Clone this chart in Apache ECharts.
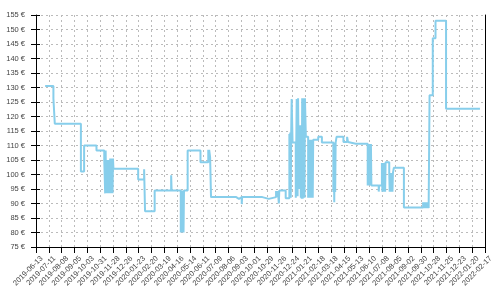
<!DOCTYPE html>
<html>
<head>
<meta charset="utf-8">
<script src="https://cdn.jsdelivr.net/npm/echarts@6/dist/echarts.min.js"></script>
<style>html,body{margin:0;padding:0;background:#fff}#c{width:500px;height:300px}</style>
</head>
<body>
<div id="c"></div>
<script>
const startDate = '2019-06-13';
const endDate = '2022-02-17';
const tickDays = 28;
const yMin = 75, yMax = 155, yStep = 5;

const dates = [
'2019-07-03','2019-07-21','2019-07-24','2019-09-19','2019-09-26','2019-10-23',
'2019-11-09','2019-11-11','2019-11-12','2019-11-13','2019-11-14','2019-11-15','2019-11-16','2019-11-17','2019-11-18','2019-11-19','2019-11-20','2019-11-21','2019-11-22','2019-11-23','2019-11-24','2019-11-25','2019-11-26','2019-11-27','2019-11-28','2019-11-29',
'2020-01-22','2020-02-04','2020-02-06','2020-02-27','2020-04-03','2020-04-04',
'2020-04-24','2020-04-25','2020-04-26','2020-04-27','2020-04-28','2020-04-29','2020-04-30','2020-05-01',
'2020-05-09','2020-06-06','2020-06-23','2020-06-24','2020-06-25','2020-06-27','2020-06-29',
'2020-08-23','2020-08-29','2020-09-04','2020-09-05','2020-10-19','2020-11-02',
'2020-11-18','2020-11-19','2020-11-20','2020-11-21','2020-11-22','2020-11-23','2020-11-24','2020-11-25',
'2020-12-09','2020-12-17','2020-12-18','2020-12-19','2020-12-20','2020-12-21','2020-12-22','2020-12-24','2020-12-31',
'2021-01-02','2021-01-04','2021-01-05','2021-01-07','2021-01-08','2021-01-09','2021-01-10','2021-01-11','2021-01-12','2021-01-13',
'2021-01-14','2021-01-15','2021-01-16','2021-01-17','2021-01-18','2021-01-19','2021-01-20','2021-01-22',
'2021-01-27','2021-01-28','2021-01-29','2021-01-30','2021-01-31','2021-02-01','2021-02-02','2021-02-03','2021-02-04','2021-02-05','2021-02-06','2021-02-07',
'2021-02-18','2021-02-26',
'2021-03-23','2021-03-24','2021-03-25','2021-03-26','2021-03-27','2021-03-28','2021-03-30',
'2021-04-14','2021-04-22','2021-04-24','2021-04-26','2021-05-11','2021-05-13',
'2021-06-06','2021-06-07','2021-06-08','2021-06-09','2021-06-10','2021-06-11','2021-06-12','2021-06-13','2021-06-14',
'2021-06-30','2021-07-01',
'2021-07-07','2021-07-08','2021-07-09','2021-07-10','2021-07-11','2021-07-12','2021-07-13','2021-07-14','2021-07-15',
'2021-07-23','2021-07-24','2021-07-25','2021-07-26','2021-07-27','2021-07-28','2021-07-29','2021-07-30','2021-07-31',
'2021-08-02','2021-08-24',
'2021-10-05','2021-10-07','2021-10-08','2021-10-09','2021-10-10','2021-10-11','2021-10-12','2021-10-13','2021-10-14','2021-10-15','2021-10-16','2021-10-17',
'2021-10-19','2021-10-26','2021-11-01','2021-11-24','2022-02-06'
];
const prices = [
130.5,126.2,117.5,101,110,108.3,
105,93.5,108.3,93.5,105,93.5,104.5,93.5,105,93.5,104.5,93.5,105.5,93.5,105.5,93.5,105.5,93.5,105.5,102,
98.3,101.8,87.3,94.5,99.7,94.5,
80,94.5,80,94.5,80,94.5,80,94.5,
108.3,104.2,108.5,104.2,108.5,106,92.2,
91.6,92.2,89.8,92.2,91.6,92.2,
94.3,92.2,94.3,92.2,94.3,92.2,90,94.5,
91.8,114,92,114.5,92,114.5,126,111,92,
126,92.5,126.3,95,116.5,95,117,92,112,91.6,
126.3,91.6,126.3,92,126.3,92,126.3,113,
92,112,92,112,92,112,92,112,92,112,92,112,
113,111,
94,111,90.4,111,94,111,113,
111.2,113,111.2,110.6,111,110.6,
96.2,110.5,96.2,110.5,96.2,110.5,96.2,110.5,96.2,
94.1,96.2,
104,94.1,104,94.1,104,94.1,104,94.1,104.2,
100.5,94.1,100.5,94.1,100.5,94.1,100.5,94.1,100.5,
102.3,88.6,
90.4,88.4,90.4,88.4,90.4,88.4,90.4,88.4,90.4,88.4,90.4,88.4,
127.3,147,153,122.7,122.7
];

const DAY = 86400000;
const t0 = Date.parse(startDate);
const dayOf = s => Math.round((Date.parse(s) - t0) / DAY);
const fmtDay = v => new Date(t0 + v * DAY).toISOString().slice(0, 10);
const data = dates.map((d, i) => [dayOf(d), prices[i]]);

const chart = echarts.init(document.getElementById('c'), null, {renderer: 'canvas'});
const gridLine = {show: true, lineStyle: {color: '#bbb', type: [2, 3], width: 1}};
chart.setOption({
  animation: false,
  grid: {left: 36, right: 15, top: 15, bottom: 53, containLabel: false},
  xAxis: {
    type: 'value', min: 0, max: dayOf(endDate), interval: tickDays,
    axisLine: {show: true, onZero: false, lineStyle: {color: '#000', width: 1}},
    axisTick: {show: true, length: 6, lineStyle: {color: '#000'}},
    axisLabel: {rotate: 45, interval: 0, fontSize: 7.5, color: '#444', margin: 16, padding: [0, -8, 0, 0],
      formatter: v => fmtDay(v), fontFamily: 'Liberation Sans', hideOverlap: false},
    splitLine: gridLine
  },
  yAxis: [{
    type: 'value', min: yMin, max: yMax, interval: yStep, position: 'left',
    axisLine: {show: true, onZero: false, lineStyle: {color: '#000', width: 1}},
    axisTick: {show: true, length: 5, lineStyle: {color: '#000'}},
    axisLabel: {fontSize: 7.5, color: '#444', margin: 11, formatter: '{value} €', fontFamily: 'Liberation Sans'},
    splitLine: gridLine
  }, {
    type: 'value', min: yMin, max: yMax, interval: yStep, position: 'right',
    axisLine: {show: true, onZero: false, lineStyle: {color: '#000', width: 1}},
    axisTick: {show: false}, axisLabel: {show: false}, splitLine: {show: false}
  }, {
    type: 'value', min: yMin, max: yMax, interval: yStep, position: 'left', offset: 0,
    axisLine: {show: false},
    axisTick: {show: true, inside: true, length: 4, lineStyle: {color: '#000'}},
    axisLabel: {show: false}, splitLine: {show: false}
  }],
  series: [{
    type: 'line', step: 'end', data: data, showSymbol: false,
    lineStyle: {color: '#87CEEB', width: 2}, itemStyle: {color: '#87CEEB'}
  }]
});
</script>
</body>
</html>
